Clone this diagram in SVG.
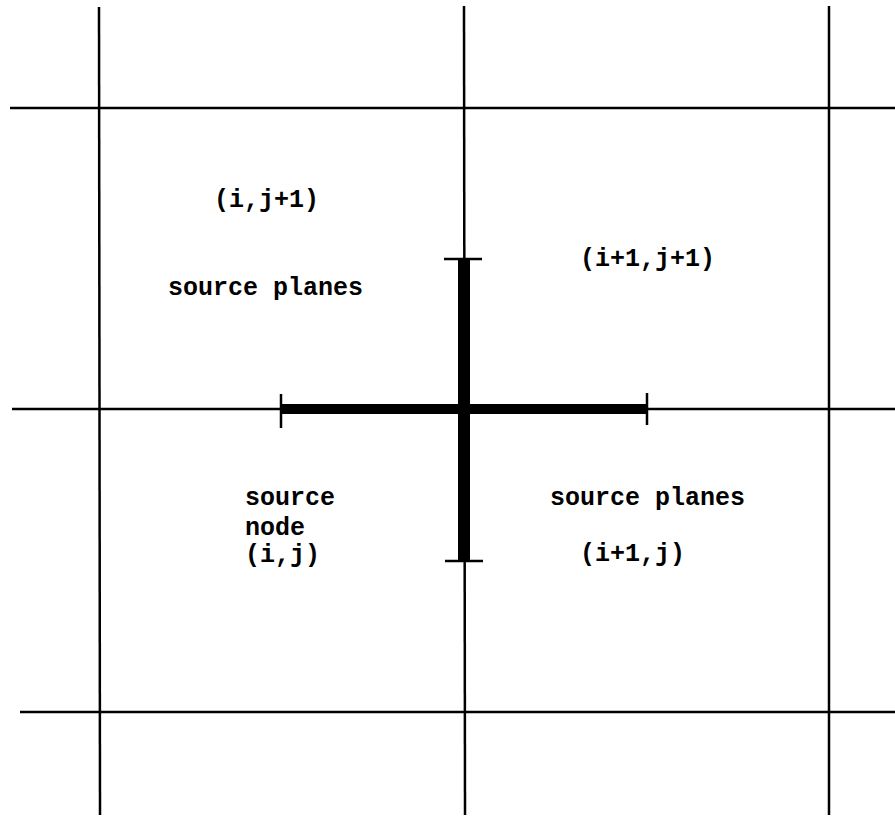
<svg xmlns="http://www.w3.org/2000/svg" width="895" height="819" viewBox="0 0 895 819">
<style>
.grid{stroke:#000;stroke-width:2.5;fill:none}
.bar{stroke:#000;fill:none}
.tick{stroke:#000;stroke-width:2.5;fill:none}
.lbl{font-family:"Liberation Mono","Courier New",monospace;font-weight:bold;font-size:25px;fill:#000}
</style>
<rect width="895" height="819" fill="#fff"/>
<g id="grid">
<line class="grid" x1="99" y1="7" x2="100" y2="815"/>
<line class="grid" x1="464" y1="6" x2="465" y2="815"/>
<line class="grid" x1="829" y1="6" x2="829" y2="815"/>
<line class="grid" x1="10" y1="108" x2="895" y2="108"/>
<line class="grid" x1="12" y1="409" x2="895" y2="409"/>
<line class="grid" x1="20" y1="712" x2="895" y2="712"/>
</g>
<g id="connectors">
<line class="bar" x1="464" y1="259" x2="464" y2="561" stroke-width="12"/>
<line class="bar" x1="281" y1="409" x2="648" y2="409" stroke-width="10"/>
<line class="tick" x1="444" y1="259" x2="482" y2="259"/>
<line class="tick" x1="445" y1="561" x2="483" y2="561"/>
<line class="tick" x1="281" y1="394" x2="281" y2="428"/>
<line class="tick" x1="647" y1="393" x2="647" y2="425"/>
</g>
<g id="cell-ij1"><text class="lbl" x="214" y="207">(i,j+1)</text><text class="lbl" x="168" y="295">source planes</text></g>
<g id="cell-i1j1"><text class="lbl" x="580" y="266">(i+1,j+1)</text></g>
<g id="cell-ij"><text class="lbl" x="245" y="505">source</text><text class="lbl" x="245" y="535">node</text><text class="lbl" x="245" y="562">(i,j)</text></g>
<g id="cell-i1j"><text class="lbl" x="550" y="505">source planes</text><text class="lbl" x="580" y="561">(i+1,j)</text></g>
</svg>
